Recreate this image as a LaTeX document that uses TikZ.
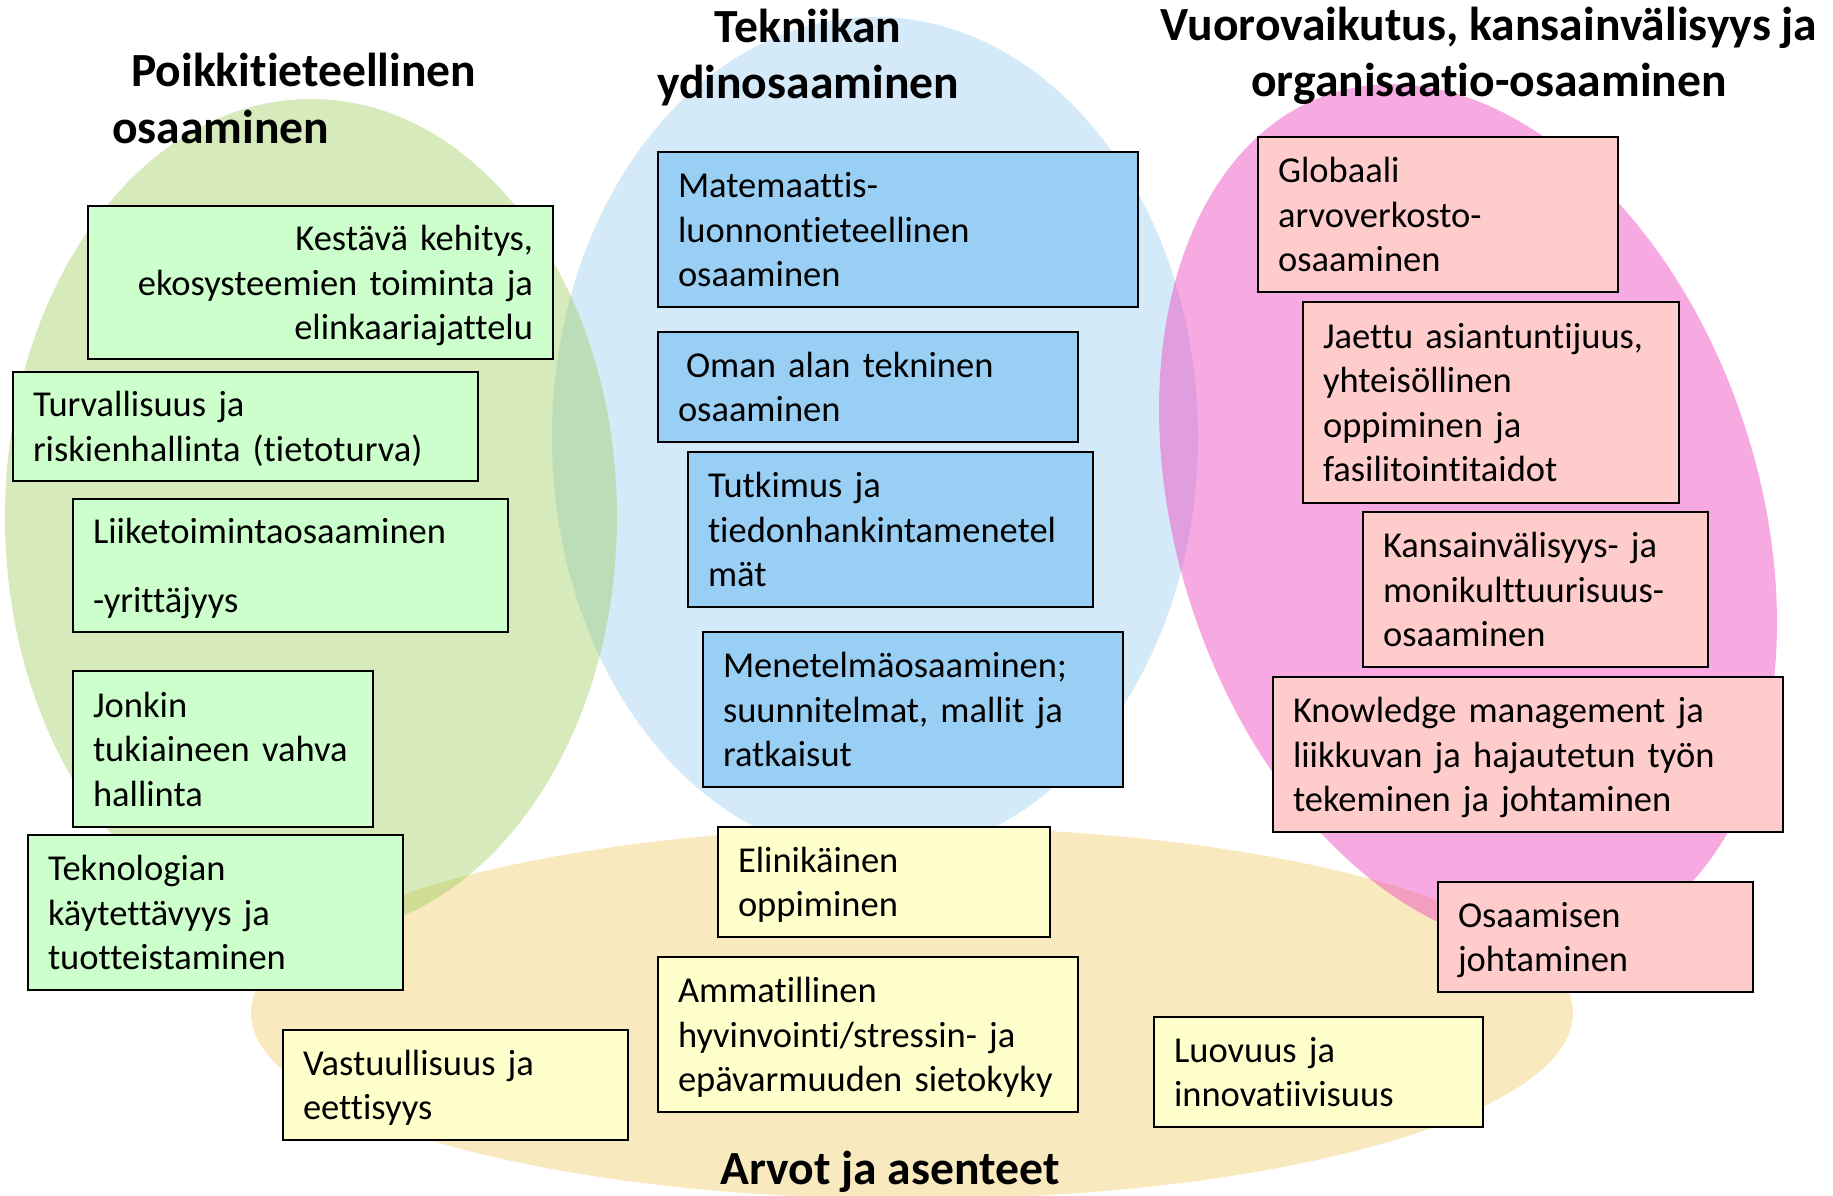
\documentclass[tikz,border=0pt]{standalone}
\usepackage{fontspec}
\setmainfont{Carlito}[Ligatures=NoCommon]
\definecolor{ellY}{RGB}{248,234,190}
\definecolor{ellB}{RGB}{213,234,249}
\definecolor{ellG}{RGB}{146,200,80}
\definecolor{ellP}{RGB}{238,67,191}
\definecolor{boxG}{RGB}{204,255,204}
\definecolor{boxB}{RGB}{153,207,244}
\definecolor{boxP}{RGB}{255,204,204}
\definecolor{boxY}{RGB}{255,255,204}
\tikzset{
  cbox/.style={draw=black, line width=2.5pt, inner xsep=20pt, inner ysep=0pt,
    font=\fontsize{36.5}{44.5}\selectfont, align=left,
    execute at begin node={\rule{0pt}{34pt}},
    execute at end node={\rule[-9pt]{0pt}{0pt}}},
  gbox/.style={cbox, fill=boxG},
  bbox/.style={cbox, fill=boxB},
  pbox/.style={cbox, fill=boxP},
  ybox/.style={cbox, fill=boxY},
  ttl/.style={font=\fontsize{47.6}{57.5}\selectfont\bfseries, inner sep=0pt},
}
\begin{document}
\begin{tikzpicture}[x=1pt,y=-1pt]
\useasboundingbox (0,0) rectangle (1833,1195);
% ellipses
\fill[ellY] (912,1013) ellipse [x radius=661, y radius=186];
\fill[ellB] (875,437) ellipse [x radius=323, y radius=420];
\fill[ellG, fill opacity=0.38] (311,517) ellipse [x radius=306, y radius=418];
\fill[ellP, fill opacity=0.45, shift={(1468,516)}, rotate=18] (0,0) ellipse [x radius=291, y radius=444];
% titles
\node[ttl, anchor=base west] (t1a) at (131,86) {Poikkitieteellinen};
\node[ttl, anchor=base west] (t1b) at (112,143.5) {osaaminen};
\node[ttl, anchor=base] (t2a) at (808,42) {Tekniikan};
\node[ttl, anchor=base] (t2b) at (808,98) {ydinosaaminen};
\node[ttl, anchor=base] (t3a) at (1489,40) {Vuorovaikutus, kansainvälisyys ja};
\node[ttl, anchor=base] (t3b) at (1489,96.5) {organisaatio-osaaminen};
\node[ttl, anchor=base] (t4) at (890,1184) {Arvot ja asenteet};
% green boxes
\node[gbox, align=right, minimum width=465pt, minimum height=153pt, text width=425pt] (b1) at (320.5,282.5)
  {Kestävä kehitys,\\ ekosysteemien toiminta ja\\ elinkaariajattelu};
\node[gbox, minimum width=465pt, minimum height=109pt, text width=425pt] (b2) at (245.5,426.5)
  {Turvallisuus ja\\ riskienhallinta (tietoturva)};
\node[gbox, minimum width=435pt, minimum height=133pt, text width=395pt] (b3) at (290.5,565.5)
  {Liiketoimintaosaaminen\\[24pt] -yrittäjyys};
\node[gbox, minimum width=300pt, minimum height=156pt, text width=260pt] (b4) at (223,749)
  {Jonkin\\ tukiaineen vahva\\ hallinta};
\node[gbox, minimum width=375pt, minimum height=155pt, text width=335pt] (b5) at (215.5,912.5)
  {Teknologian\\ käytettävyys ja\\ tuotteistaminen};
% blue boxes
\node[bbox, minimum width=480pt, minimum height=155pt, text width=440pt] (b6) at (898,229.5)
  {Matemaattis-\\ luonnontieteellinen\\ osaaminen};
\node[bbox, minimum width=420pt, minimum height=110pt, text width=380pt] (b7) at (868,387)
  {\hspace*{8pt}Oman alan tekninen\\ osaaminen};
\node[bbox, minimum width=405pt, minimum height=155pt, text width=365pt] (b8) at (890.5,529.5)
  {Tutkimus ja\\ tiedonhankintamenetel\\ mät};
\node[bbox, minimum width=420pt, minimum height=155pt, text width=380pt] (b9) at (913,709.5)
  {Menetelmäosaaminen;\\ suunnitelmat, mallit ja\\ ratkaisut};
% pink boxes
\node[pbox, minimum width=360pt, minimum height=155pt, text width=320pt] (b10) at (1438,214.5)
  {Globaali\\ arvoverkosto-\\ osaaminen};
\node[pbox, minimum width=376pt, minimum height=201pt, text width=336pt] (b11) at (1491,402.5)
  {Jaettu asiantuntijuus,\\ yhteisöllinen\\ oppiminen ja\\ fasilitointitaidot};
\node[pbox, minimum width=345pt, minimum height=155pt, text width=305pt] (b12) at (1535.5,589.5)
  {Kansainvälisyys- ja\\ monikulttuurisuus-\\ osaaminen};
\node[pbox, minimum width=510pt, minimum height=155pt, text width=470pt] (b13) at (1528,754.5)
  {Knowledge management ja\\ liikkuvan ja hajautetun työn\\ tekeminen ja johtaminen};
\node[pbox, minimum width=315pt, minimum height=110pt, text width=275pt] (b14) at (1595.5,937)
  {Osaamisen\\ johtaminen};
% yellow boxes
\node[ybox, minimum width=332pt, minimum height=110pt, text width=292pt] (b15) at (884,882)
  {Elinikäinen\\ oppiminen};
\node[ybox, minimum width=420pt, minimum height=155pt, text width=380pt] (b16) at (868,1034.5)
  {Ammatillinen\\ hyvinvointi/stressin- ja\\ epävarmuuden sietokyky};
\node[ybox, minimum width=345pt, minimum height=110pt, text width=305pt] (b17) at (455.5,1085)
  {Vastuullisuus ja\\ eettisyys};
\node[ybox, minimum width=329pt, minimum height=110pt, text width=289pt] (b18) at (1318.5,1072)
  {Luovuus ja\\ innovatiivisuus};
\end{tikzpicture}
\end{document}
